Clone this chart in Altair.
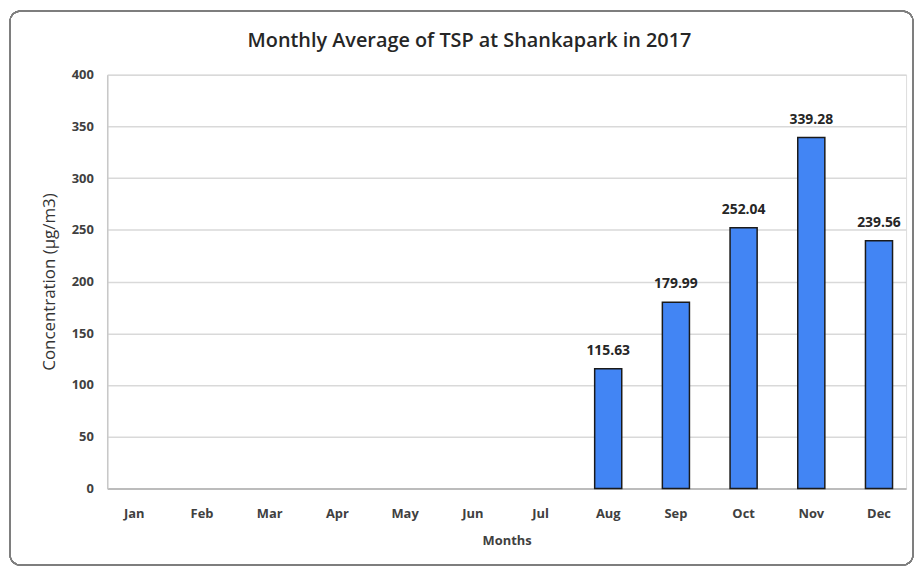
import altair as alt
import pandas as pd

months = ["Jan", "Feb", "Mar", "Apr", "May", "Jun", "Jul", "Aug", "Sep", "Oct", "Nov", "Dec"]
tsp = [None, None, None, None, None, None, None, 115.63, 179.99, 252.04, 339.28, 239.56]
y_ticks = [0, 50, 100, 150, 200, 250, 300, 350, 400]
title_text = ["Monthly Average of TSP at Shankapark in 2017"]

df = pd.DataFrame({"Month": months, "TSP": tsp})
df["Label"] = [f"{v:.2f}" if v is not None else "" for v in tsp]

FONT = "Open Sans"
W, H = 805, 417

x_enc = alt.X("Month:N", sort=months, scale=alt.Scale(paddingInner=0.6, paddingOuter=0.2),
              axis=alt.Axis(title="Months", labelAngle=0, ticks=False, domain=True,
                            domainColor="#b0b0b0", domainWidth=1.5, labelFont=FONT,
                            labelFontSize=13, labelFontWeight="bold", labelColor="#404040",
                            labelPadding=19, titleFont=FONT, titleFontSize=13,
                            titleFontWeight="bold", titleColor="#404040", titlePadding=14))
y_enc = alt.Y("TSP:Q", scale=alt.Scale(domain=[0, 400]),
              axis=alt.Axis(values=y_ticks, title="Concentration (µg/m3)", ticks=False,
                            domain=True, domainColor="#c8c8c8", domainWidth=1.5,
                            gridColor="#d9d9d9", gridWidth=1.5, labelFont=FONT,
                            labelFontSize=13, labelFontWeight="bold", labelColor="#404040",
                            labelPadding=14, titleFont=FONT, titleFontSize=17,
                            titleFontWeight="normal", titleColor="#333333", titlePadding=13))

base = alt.Chart(df)

bars = base.mark_bar(color="#4285f4", stroke="#1a1a1a", strokeWidth=1.5).encode(x=x_enc, y=y_enc)

labels = base.transform_filter("datum.TSP != null").mark_text(
    dy=-18, font=FONT, fontSize=14, fontWeight="bold", color="#262626"
).encode(x=alt.X("Month:N", sort=months), y="TSP:Q", text="Label:N")

title = alt.Chart(pd.DataFrame({"t": title_text})).mark_text(
    font=FONT, fontSize=20, fontWeight=600, color="#262626", baseline="alphabetic"
).encode(x=alt.value(365), y=alt.value(-28), text="t:N")

frame = alt.Chart(df).mark_rect(
    fill=None, stroke="#7f7f7f", strokeWidth=1.2, cornerRadius=10
).encode(
    x=alt.value(-98), x2=alt.value(812), y=alt.value(-64), y2=alt.value(494)
)

chart = alt.layer(frame, bars, labels, title).properties(
    width=W, height=H,
    autosize=alt.AutoSizeParams(type="none"),
    padding={"left": 100, "top": 65, "right": 10, "bottom": 81},
).configure_view(stroke=None).configure(background="white")

chart.save("out.html", embed_options={"renderer": "svg", "actions": False})
